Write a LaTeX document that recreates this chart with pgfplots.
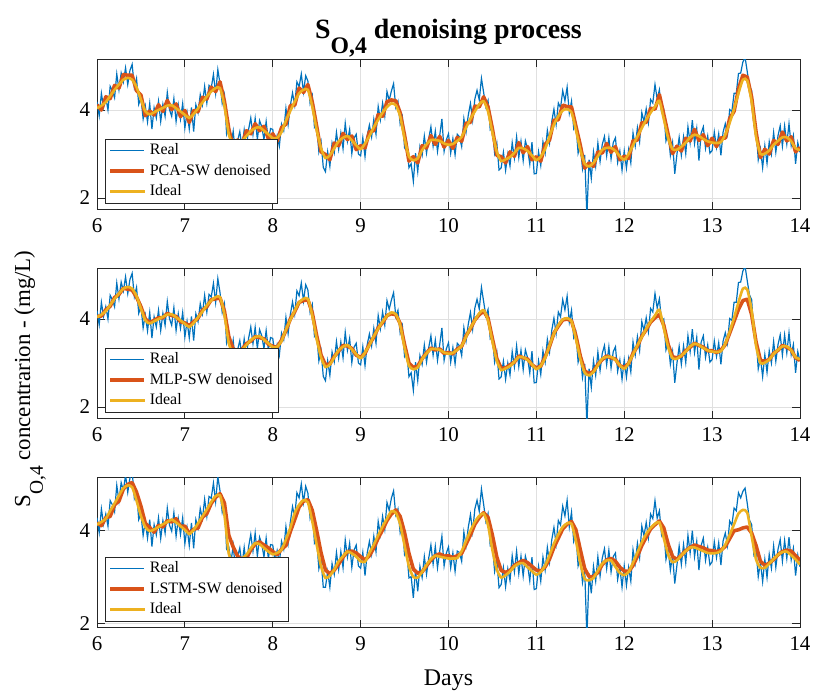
\documentclass[border=0pt]{standalone}
\usepackage{fontspec}
\setmainfont{Liberation Serif}
\usepackage{graphicx}
\usepackage{pgfplots}
\usepackage{pgfplotstable}
\pgfplotsset{compat=1.18}
\definecolor{mblue}{rgb}{0,0.447,0.741}
\definecolor{morange}{rgb}{0.85,0.325,0.098}
\definecolor{myellow}{rgb}{0.929,0.694,0.125}
\definecolor{axgray}{rgb}{0.15,0.15,0.15}
\newcommand{\msub}[1]{\raisebox{-0.55em}{\scalebox{0.85}{#1}}}

% Real signal, panels 1-2
\pgfplotstableread[row sep=\\]{
d v\\
6.000 4.19\\6.025 3.87\\6.050 4.38\\6.075 4.06\\6.100 4.28\\6.125 4.00\\6.150 4.54\\6.175 4.44\\6.200 4.28\\6.225 4.82\\
6.250 4.46\\6.275 4.84\\6.300 4.64\\6.325 4.96\\6.350 4.58\\6.375 4.90\\6.400 5.04\\6.425 4.51\\6.450 4.72\\6.475 4.13\\
6.500 4.29\\6.525 3.80\\6.550 4.09\\6.575 3.73\\6.600 4.15\\6.625 3.57\\6.650 4.05\\6.675 3.82\\6.700 4.20\\6.725 3.74\\
6.750 4.13\\6.775 3.86\\6.800 4.40\\6.825 4.01\\6.850 3.86\\6.875 4.26\\6.900 3.74\\6.925 4.12\\6.950 3.79\\6.975 4.15\\
7.000 3.59\\7.025 3.95\\7.050 3.57\\7.075 4.06\\7.100 3.51\\7.125 4.12\\7.150 3.94\\7.175 4.35\\7.200 4.12\\7.225 4.54\\
7.250 4.16\\7.275 4.56\\7.300 4.50\\7.325 4.81\\7.350 4.38\\7.375 4.92\\7.400 4.60\\7.425 4.15\\7.450 4.35\\7.475 3.45\\
7.500 3.60\\7.525 3.20\\7.550 3.52\\7.575 3.00\\7.600 3.30\\7.625 3.51\\7.650 3.15\\7.675 3.55\\7.700 3.16\\7.725 3.56\\
7.750 3.82\\7.775 3.44\\7.800 3.81\\7.825 3.33\\7.850 3.76\\7.875 3.62\\7.900 3.33\\7.925 3.74\\7.950 3.30\\7.975 3.58\\
8.000 3.56\\8.025 3.20\\8.050 3.42\\8.075 3.18\\8.100 3.68\\8.125 3.53\\8.150 4.04\\8.175 3.67\\8.200 4.10\\8.225 4.39\\
8.250 4.11\\8.275 4.64\\8.300 4.53\\8.325 4.82\\8.350 4.41\\8.375 4.78\\8.400 4.66\\8.425 4.15\\8.450 4.33\\8.475 3.60\\
8.500 3.65\\8.525 3.05\\8.550 3.28\\8.575 2.70\\8.600 2.60\\8.625 3.05\\8.650 2.72\\8.675 3.25\\8.700 3.03\\8.725 3.49\\
8.750 3.11\\8.775 3.48\\8.800 3.12\\8.825 3.70\\8.850 3.29\\8.875 3.56\\8.900 3.01\\8.925 3.36\\8.950 3.45\\8.975 3.00\\
9.000 2.96\\9.025 3.37\\9.050 2.94\\9.075 3.42\\9.100 3.66\\9.125 3.39\\9.150 3.79\\9.175 3.45\\9.200 4.08\\9.225 3.78\\
9.250 4.16\\9.275 3.86\\9.300 4.42\\9.325 4.22\\9.350 4.43\\9.375 4.60\\9.400 4.06\\9.425 4.20\\9.450 3.68\\9.475 3.85\\
9.500 3.15\\9.525 3.25\\9.550 2.69\\9.575 2.78\\9.600 2.38\\9.625 3.02\\9.650 2.60\\9.675 3.17\\9.700 2.97\\9.725 3.41\\
9.750 3.02\\9.775 3.35\\9.800 3.62\\9.825 3.18\\9.850 3.52\\9.875 3.06\\9.900 3.42\\9.925 3.80\\9.950 3.06\\9.975 3.32\\
10.000 3.46\\10.025 3.02\\10.050 3.35\\10.075 2.98\\10.100 3.45\\10.125 3.39\\10.150 3.17\\10.175 3.80\\10.200 3.50\\10.225 3.88\\
10.250 4.15\\10.275 3.77\\10.300 4.25\\10.325 4.45\\10.350 4.23\\10.375 4.72\\10.400 4.40\\10.425 4.07\\10.450 4.22\\10.475 3.55\\
10.500 3.59\\10.525 3.02\\10.550 3.25\\10.575 2.64\\10.600 2.69\\10.625 3.04\\10.650 2.63\\10.675 3.00\\10.700 2.73\\10.725 3.26\\
10.750 2.91\\10.775 3.39\\10.800 2.92\\10.825 3.29\\10.850 2.85\\10.875 3.30\\10.900 3.12\\10.925 2.77\\10.950 3.27\\10.975 2.55\\
11.000 2.56\\11.025 3.05\\11.050 2.74\\11.075 3.28\\11.100 3.02\\11.125 3.54\\11.150 3.25\\11.175 3.74\\11.200 4.02\\11.225 3.67\\
11.250 4.16\\11.275 4.05\\11.300 4.44\\11.325 4.21\\11.350 4.52\\11.375 3.93\\11.400 4.20\\11.425 3.58\\11.450 3.70\\11.475 3.02\\
11.500 3.20\\11.525 2.67\\11.550 2.98\\11.575 1.60\\11.600 2.87\\11.625 2.45\\11.650 3.05\\11.675 2.72\\11.700 3.25\\11.725 2.83\\
11.750 3.22\\11.775 3.40\\11.800 2.96\\11.825 3.37\\11.850 2.89\\11.875 3.26\\11.900 3.37\\11.925 2.81\\11.950 3.07\\11.975 2.63\\
12.000 3.07\\12.025 2.68\\12.050 3.10\\12.075 2.80\\12.100 3.48\\12.125 3.18\\12.150 3.60\\12.175 3.28\\12.200 3.94\\12.225 3.74\\
12.250 4.03\\12.275 3.71\\12.300 4.24\\12.325 4.16\\12.350 4.58\\12.375 4.25\\12.400 4.46\\12.425 3.95\\12.450 4.00\\12.475 3.30\\
12.500 3.48\\12.525 2.97\\12.550 3.26\\12.575 2.55\\12.600 3.00\\12.625 3.38\\12.650 2.97\\12.675 3.39\\12.700 3.01\\12.725 3.62\\
12.750 3.26\\12.775 3.77\\12.800 3.24\\12.825 3.58\\12.850 2.85\\12.875 3.47\\12.900 3.62\\12.925 3.13\\12.950 3.41\\12.975 3.02\\
13.000 3.08\\13.025 3.50\\13.050 3.15\\13.075 3.46\\13.100 2.97\\13.125 3.50\\13.150 3.69\\13.175 3.45\\13.200 4.01\\13.225 3.97\\
13.250 4.38\\13.275 4.38\\13.300 4.83\\13.325 4.84\\13.350 5.09\\13.375 5.20\\13.400 4.87\\13.425 4.55\\13.450 4.44\\13.475 3.65\\
13.500 3.60\\13.525 2.87\\13.550 3.12\\13.575 2.69\\13.600 3.19\\13.625 2.79\\13.650 3.28\\13.675 3.00\\13.700 3.49\\13.725 3.04\\
13.750 3.42\\13.775 3.64\\13.800 3.18\\13.825 3.64\\13.850 3.23\\13.875 3.69\\13.900 3.19\\13.925 3.42\\13.950 2.78\\13.975 3.26\\
14.000 3.04\\
}\realA

% Ideal, panels 1-2
\pgfplotstableread[row sep=\\]{
d v\\
6.00 4.04\\6.05 4.10\\6.10 4.18\\6.15 4.32\\6.20 4.46\\6.25 4.58\\6.30 4.69\\6.35 4.73\\6.40 4.69\\6.45 4.52\\
6.50 4.24\\6.55 3.97\\6.60 3.90\\6.65 3.95\\6.70 4.00\\6.75 4.05\\6.80 4.10\\6.85 4.11\\6.90 4.04\\6.95 3.97\\
7.00 3.89\\7.05 3.82\\7.10 3.91\\7.15 4.04\\7.20 4.17\\7.25 4.31\\7.30 4.42\\7.35 4.50\\7.40 4.50\\7.45 4.10\\
7.50 3.45\\7.55 3.22\\7.60 3.22\\7.65 3.30\\7.70 3.41\\7.75 3.52\\7.80 3.59\\7.85 3.61\\7.90 3.53\\7.95 3.45\\
8.00 3.36\\8.05 3.37\\8.10 3.50\\8.15 3.76\\8.20 3.98\\8.25 4.19\\8.30 4.38\\8.35 4.46\\8.40 4.46\\8.45 4.08\\
8.50 3.55\\8.55 3.13\\8.60 2.91\\8.65 2.97\\8.70 3.13\\8.75 3.29\\8.80 3.37\\8.85 3.41\\8.90 3.31\\8.95 3.20\\
9.00 3.11\\9.05 3.24\\9.10 3.41\\9.15 3.61\\9.20 3.78\\9.25 3.94\\9.30 4.07\\9.35 4.15\\9.40 4.11\\9.45 3.86\\
9.50 3.35\\9.55 2.94\\9.60 2.86\\9.65 2.90\\9.70 3.09\\9.75 3.22\\9.80 3.32\\9.85 3.32\\9.90 3.30\\9.95 3.24\\
10.00 3.21\\10.05 3.23\\10.10 3.30\\10.15 3.39\\10.20 3.60\\10.25 3.80\\10.30 3.97\\10.35 4.13\\10.40 4.20\\10.45 3.97\\
10.50 3.49\\10.55 3.05\\10.60 2.84\\10.65 2.88\\10.70 2.93\\10.75 3.03\\10.80 3.14\\10.85 3.13\\10.90 3.07\\10.95 2.97\\
11.00 2.86\\11.05 2.94\\11.10 3.12\\11.15 3.40\\11.20 3.67\\11.25 3.86\\11.30 3.99\\11.35 4.02\\11.40 3.95\\11.45 3.55\\
11.50 3.10\\11.55 2.78\\11.60 2.72\\11.65 2.80\\11.70 2.95\\11.75 3.10\\11.80 3.14\\11.85 3.14\\11.90 3.07\\11.95 2.95\\
12.00 2.87\\12.05 3.00\\12.10 3.20\\12.15 3.40\\12.20 3.59\\12.25 3.78\\12.30 3.94\\12.35 4.08\\12.40 4.21\\12.45 3.80\\
12.50 3.36\\12.55 3.11\\12.60 3.10\\12.65 3.17\\12.70 3.26\\12.75 3.38\\12.80 3.44\\12.85 3.41\\12.90 3.34\\12.95 3.29\\
13.00 3.26\\13.05 3.25\\13.10 3.27\\13.15 3.44\\13.20 3.71\\13.25 4.03\\13.30 4.38\\13.35 4.69\\13.40 4.67\\13.45 4.19\\
13.50 3.40\\13.55 3.00\\13.60 3.01\\13.65 3.08\\13.70 3.21\\13.75 3.30\\13.80 3.38\\13.85 3.38\\13.90 3.29\\13.95 3.13\\
14.00 3.09\\
}\idealA

% PCA-SW denoised
\pgfplotstableread[row sep=\\]{
d v\\
6.00 4.12\\6.05 4.00\\6.10 4.30\\6.15 4.26\\6.20 4.56\\6.25 4.50\\6.30 4.81\\6.35 4.79\\6.40 4.79\\6.45 4.44\\
6.50 4.34\\6.55 3.87\\6.60 3.98\\6.65 3.89\\6.70 4.12\\6.75 3.97\\6.80 4.22\\6.85 4.01\\6.90 4.14\\6.95 3.85\\
7.00 3.99\\7.05 3.72\\7.10 3.99\\7.15 3.96\\7.20 4.29\\7.25 4.25\\7.30 4.52\\7.35 4.42\\7.40 4.64\\7.45 4.20\\
7.50 3.57\\7.55 3.14\\7.60 3.32\\7.65 3.22\\7.70 3.53\\7.75 3.46\\7.80 3.69\\7.85 3.53\\7.90 3.63\\7.95 3.35\\
8.00 3.46\\8.05 3.29\\8.10 3.60\\8.15 3.68\\8.20 4.10\\8.25 4.11\\8.30 4.50\\8.35 4.40\\8.40 4.58\\8.45 4.18\\
8.50 3.63\\8.55 3.05\\8.60 2.99\\8.65 2.87\\8.70 3.25\\8.75 3.19\\8.80 3.47\\8.85 3.33\\8.90 3.41\\8.95 3.10\\
9.00 3.19\\9.05 3.14\\9.10 3.51\\9.15 3.53\\9.20 3.90\\9.25 3.86\\9.30 4.19\\9.35 4.23\\9.40 4.21\\9.45 3.94\\
9.50 3.43\\9.55 2.84\\9.60 2.94\\9.65 2.80\\9.70 3.19\\9.75 3.14\\9.80 3.42\\9.85 3.22\\9.90 3.40\\9.95 3.16\\
10.00 3.31\\10.05 3.13\\10.10 3.38\\10.15 3.29\\10.20 3.70\\10.25 3.72\\10.30 4.09\\10.35 4.07\\10.40 4.30\\10.45 4.07\\
10.50 3.57\\10.55 2.97\\10.60 2.94\\10.65 2.80\\10.70 3.05\\10.75 2.95\\10.80 3.26\\10.85 3.03\\10.90 3.17\\10.95 2.87\\
11.00 2.94\\11.05 2.84\\11.10 3.22\\11.15 3.32\\11.20 3.77\\11.25 3.78\\11.30 4.11\\11.35 4.08\\11.40 4.07\\11.45 3.63\\
11.50 3.20\\11.55 2.68\\11.60 2.80\\11.65 2.72\\11.70 3.05\\11.75 3.02\\11.80 3.24\\11.85 3.04\\11.90 3.17\\11.95 2.87\\
12.00 2.95\\12.05 2.90\\12.10 3.30\\12.15 3.32\\12.20 3.71\\12.25 3.72\\12.30 4.04\\12.35 4.02\\12.40 4.35\\12.45 3.90\\
12.50 3.44\\12.55 3.01\\12.60 3.18\\12.65 3.07\\12.70 3.36\\12.75 3.30\\12.80 3.56\\12.85 3.31\\12.90 3.44\\12.95 3.19\\
13.00 3.36\\13.05 3.17\\13.10 3.37\\13.15 3.36\\13.20 3.81\\13.25 3.97\\13.30 4.48\\13.35 4.79\\13.40 4.75\\13.45 4.29\\
13.50 3.50\\13.55 2.92\\13.60 3.11\\13.65 3.00\\13.70 3.31\\13.75 3.22\\13.80 3.50\\13.85 3.30\\13.90 3.39\\13.95 3.05\\
14.00 3.15\\
}\pcaA

% MLP-SW denoised
\pgfplotstableread[row sep=\\]{
d v\\
6.00 4.06\\6.05 4.07\\6.10 4.21\\6.15 4.29\\6.20 4.49\\6.25 4.56\\6.30 4.70\\6.35 4.68\\6.40 4.66\\6.45 4.50\\
6.50 4.28\\6.55 4.00\\6.60 3.92\\6.65 3.97\\6.70 4.03\\6.75 4.03\\6.80 4.13\\6.85 4.08\\6.90 4.06\\6.95 3.94\\
7.00 3.91\\7.05 3.85\\7.10 3.94\\7.15 4.02\\7.20 4.20\\7.25 4.28\\7.30 4.44\\7.35 4.46\\7.40 4.48\\7.45 4.18\\
7.50 3.60\\7.55 3.32\\7.60 3.28\\7.65 3.31\\7.70 3.44\\7.75 3.50\\7.80 3.60\\7.85 3.58\\7.90 3.55\\7.95 3.43\\
8.00 3.38\\8.05 3.36\\8.10 3.52\\8.15 3.74\\8.20 4.00\\8.25 4.17\\8.30 4.38\\8.35 4.42\\8.40 4.44\\8.45 4.14\\
8.50 3.62\\8.55 3.18\\8.60 2.96\\8.65 2.98\\8.70 3.15\\8.75 3.27\\8.80 3.40\\8.85 3.39\\8.90 3.33\\8.95 3.18\\
9.00 3.13\\9.05 3.22\\9.10 3.43\\9.15 3.59\\9.20 3.80\\9.25 3.92\\9.30 4.08\\9.35 4.12\\9.40 4.10\\9.45 3.90\\
9.50 3.42\\9.55 3.00\\9.60 2.90\\9.65 2.93\\9.70 3.10\\9.75 3.23\\9.80 3.34\\9.85 3.30\\9.90 3.32\\9.95 3.22\\
10.00 3.24\\10.05 3.21\\10.10 3.32\\10.15 3.38\\10.20 3.62\\10.25 3.78\\10.30 3.98\\10.35 4.10\\10.40 4.18\\10.45 4.02\\
10.50 3.55\\10.55 3.10\\10.60 2.88\\10.65 2.89\\10.70 2.96\\10.75 3.02\\10.80 3.16\\10.85 3.12\\10.90 3.09\\10.95 2.96\\
11.00 2.89\\11.05 2.93\\11.10 3.14\\11.15 3.38\\11.20 3.68\\11.25 3.84\\11.30 3.98\\11.35 4.00\\11.40 3.96\\11.45 3.62\\
11.50 3.16\\11.55 2.82\\11.60 2.76\\11.65 2.81\\11.70 2.97\\11.75 3.08\\11.80 3.16\\11.85 3.12\\11.90 3.09\\11.95 2.94\\
12.00 2.90\\12.05 2.99\\12.10 3.22\\12.15 3.38\\12.20 3.61\\12.25 3.76\\12.30 3.93\\12.35 4.03\\12.40 4.10\\12.45 3.86\\
12.50 3.42\\12.55 3.14\\12.60 3.12\\12.65 3.16\\12.70 3.28\\12.75 3.36\\12.80 3.45\\12.85 3.40\\12.90 3.36\\12.95 3.28\\
13.00 3.28\\13.05 3.24\\13.10 3.29\\13.15 3.42\\13.20 3.68\\13.25 3.95\\13.30 4.22\\13.35 4.42\\13.40 4.45\\13.45 4.10\\
13.50 3.48\\13.55 3.06\\13.60 3.04\\13.65 3.08\\13.70 3.22\\13.75 3.29\\13.80 3.40\\13.85 3.36\\13.90 3.30\\13.95 3.12\\
14.00 3.06\\
}\mlpA

% Real signal, panel 3
\pgfplotstableread[row sep=\\]{
d v\\
6.000 4.28\\6.025 3.96\\6.050 4.47\\6.075 4.14\\6.100 4.36\\6.125 4.10\\6.150 4.65\\6.175 4.56\\6.200 4.41\\6.225 4.98\\
6.250 4.64\\6.275 5.04\\6.300 4.87\\6.325 5.20\\6.350 4.83\\6.375 5.14\\6.400 5.29\\6.425 4.70\\6.450 4.85\\6.475 4.24\\
6.500 4.37\\6.525 3.90\\6.550 4.20\\6.575 3.84\\6.600 4.24\\6.625 3.66\\6.650 4.13\\6.675 3.91\\6.700 4.28\\6.725 3.83\\
6.750 4.22\\6.775 3.95\\6.800 4.49\\6.825 4.12\\6.850 3.99\\6.875 4.39\\6.900 3.88\\6.925 4.26\\6.950 3.92\\6.975 4.28\\
7.000 3.72\\7.025 4.07\\7.050 3.68\\7.075 4.17\\7.100 3.62\\7.125 4.24\\7.150 4.06\\7.175 4.48\\7.200 4.26\\7.225 4.68\\
7.250 4.31\\7.275 4.74\\7.300 4.70\\7.325 5.03\\7.350 4.63\\7.375 5.17\\7.400 4.86\\7.425 4.40\\7.450 4.59\\7.475 3.60\\
7.500 3.65\\7.525 3.33\\7.550 3.68\\7.575 3.17\\7.600 3.44\\7.625 3.63\\7.650 3.25\\7.675 3.64\\7.700 3.23\\7.725 3.65\\
7.750 3.92\\7.775 3.56\\7.800 3.95\\7.825 3.45\\7.850 3.86\\7.875 3.72\\7.900 3.43\\7.925 3.84\\7.950 3.40\\7.975 3.70\\
8.000 3.69\\8.025 3.35\\8.050 3.57\\8.075 3.30\\8.100 3.77\\8.125 3.60\\8.150 4.09\\8.175 3.73\\8.200 4.18\\8.225 4.52\\
8.250 4.30\\8.275 4.82\\8.300 4.71\\8.325 5.01\\8.350 4.61\\8.375 4.96\\8.400 4.81\\8.425 4.27\\8.450 4.45\\8.475 3.73\\
8.500 3.80\\8.525 3.18\\8.550 3.38\\8.575 2.78\\8.600 2.78\\8.625 3.12\\8.650 2.78\\8.675 3.29\\8.700 3.06\\8.725 3.53\\
8.750 3.16\\8.775 3.55\\8.800 3.20\\8.825 3.80\\8.850 3.43\\8.875 3.73\\8.900 3.21\\8.925 3.58\\8.950 3.69\\8.975 3.24\\
9.000 3.19\\9.025 3.53\\9.050 3.03\\9.075 3.52\\9.100 3.77\\9.125 3.49\\9.150 3.88\\9.175 3.55\\9.200 4.20\\9.225 3.92\\
9.250 4.31\\9.275 4.03\\9.300 4.61\\9.325 4.44\\9.350 4.70\\9.375 4.86\\9.400 4.34\\9.425 4.47\\9.450 3.96\\9.475 4.16\\
9.500 3.48\\9.525 3.57\\9.550 2.98\\9.575 3.01\\9.600 2.55\\9.625 3.15\\9.650 2.69\\9.675 3.23\\9.700 2.99\\9.725 3.44\\
9.750 3.06\\9.775 3.41\\9.800 3.69\\9.825 3.28\\9.850 3.66\\9.875 3.20\\9.900 3.56\\9.925 3.88\\9.950 3.24\\9.975 3.51\\
10.000 3.65\\10.025 3.20\\10.050 3.52\\10.075 3.12\\10.100 3.56\\10.125 3.53\\10.150 3.34\\10.175 3.97\\10.200 3.68\\10.225 4.07\\
10.250 4.35\\10.275 3.98\\10.300 4.47\\10.325 4.66\\10.350 4.42\\10.375 4.90\\10.400 4.57\\10.425 4.20\\10.450 4.37\\10.475 3.67\\
10.500 3.68\\10.525 3.12\\10.550 3.36\\10.575 2.77\\10.600 2.84\\10.625 3.20\\10.650 2.79\\10.675 3.18\\10.700 2.92\\10.725 3.46\\
10.750 3.11\\10.775 3.56\\10.800 3.07\\10.825 3.45\\10.850 3.02\\10.875 3.45\\10.900 3.26\\10.925 2.92\\10.950 3.43\\10.975 2.73\\
11.000 2.75\\11.025 3.23\\11.050 2.91\\11.075 3.43\\11.100 3.15\\11.125 3.64\\11.150 3.32\\11.175 3.80\\11.200 4.07\\11.225 3.72\\
11.250 4.22\\11.275 4.12\\11.300 4.53\\11.325 4.32\\11.350 4.66\\11.375 4.08\\11.400 4.40\\11.425 3.77\\11.450 3.93\\11.475 3.24\\
11.500 3.40\\11.525 2.88\\11.550 3.16\\11.575 1.70\\11.600 3.08\\11.625 2.65\\11.650 3.23\\11.675 2.91\\11.700 3.44\\11.725 3.02\\
11.750 3.41\\11.775 3.61\\11.800 3.18\\11.825 3.58\\11.850 3.11\\11.875 3.44\\11.900 3.52\\11.925 2.95\\11.950 3.21\\11.975 2.78\\
12.000 3.24\\12.025 2.82\\12.050 3.21\\12.075 2.91\\12.100 3.59\\12.125 3.30\\12.150 3.73\\12.175 3.42\\12.200 4.10\\12.225 3.89\\
12.250 4.18\\12.275 3.85\\12.300 4.36\\12.325 4.26\\12.350 4.65\\12.375 4.27\\12.400 4.43\\12.425 3.91\\12.450 4.04\\12.475 3.38\\
12.500 3.60\\12.525 3.15\\12.550 3.47\\12.575 2.86\\12.600 3.26\\12.625 3.67\\12.650 3.27\\12.675 3.70\\12.700 3.31\\12.725 3.90\\
12.750 3.52\\12.775 4.00\\12.800 3.44\\12.825 3.77\\12.850 3.15\\12.875 3.68\\12.900 3.84\\12.925 3.36\\12.950 3.64\\12.975 3.26\\
13.000 3.33\\13.025 3.76\\13.050 3.42\\13.075 3.74\\13.100 3.26\\13.125 3.78\\13.150 3.95\\13.175 3.68\\13.200 4.21\\13.225 4.12\\
13.250 4.49\\13.275 4.43\\13.300 4.82\\13.325 4.71\\13.350 4.85\\13.375 4.92\\13.400 4.59\\13.425 4.23\\13.450 4.13\\13.475 3.48\\
13.500 3.58\\13.525 3.01\\13.550 3.32\\13.575 2.90\\13.600 3.38\\13.625 2.99\\13.650 3.49\\13.675 3.19\\13.700 3.67\\13.725 3.21\\
13.750 3.60\\13.775 3.81\\13.800 3.34\\13.825 3.79\\13.850 3.40\\13.875 3.86\\13.900 3.37\\13.925 3.62\\13.950 3.03\\13.975 3.47\\
14.000 3.22\\
}\realB

% Ideal, panel 3
\pgfplotstableread[row sep=\\]{
d v\\
6.00 4.13\\6.05 4.19\\6.10 4.26\\6.15 4.43\\6.20 4.59\\6.25 4.76\\6.30 4.92\\6.35 4.98\\6.40 4.94\\6.45 4.65\\
6.50 4.32\\6.55 4.08\\6.60 3.99\\6.65 4.03\\6.70 4.08\\6.75 4.14\\6.80 4.19\\6.85 4.24\\6.90 4.18\\6.95 4.10\\
7.00 4.02\\7.05 3.93\\7.10 4.02\\7.15 4.16\\7.20 4.31\\7.25 4.46\\7.30 4.62\\7.35 4.75\\7.40 4.76\\7.45 4.34\\
7.50 3.50\\7.55 3.38\\7.60 3.36\\7.65 3.40\\7.70 3.48\\7.75 3.62\\7.80 3.73\\7.85 3.71\\7.90 3.63\\7.95 3.55\\
8.00 3.49\\8.05 3.52\\8.10 3.59\\8.15 3.81\\8.20 4.06\\8.25 4.38\\8.30 4.56\\8.35 4.66\\8.40 4.61\\8.45 4.20\\
8.50 3.70\\8.55 3.23\\8.60 2.98\\8.65 3.03\\8.70 3.16\\8.75 3.34\\8.80 3.45\\8.85 3.55\\8.90 3.51\\8.95 3.44\\
9.00 3.34\\9.05 3.33\\9.10 3.52\\9.15 3.70\\9.20 3.90\\9.25 4.09\\9.30 4.26\\9.35 4.42\\9.40 4.39\\9.45 4.14\\
9.50 3.68\\9.55 3.23\\9.60 3.00\\9.65 2.99\\9.70 3.11\\9.75 3.26\\9.80 3.39\\9.85 3.46\\9.90 3.44\\9.95 3.42\\
10.00 3.40\\10.05 3.40\\10.10 3.41\\10.15 3.56\\10.20 3.78\\10.25 4.00\\10.30 4.19\\10.35 4.32\\10.40 4.37\\10.45 4.12\\
10.50 3.58\\10.55 3.16\\10.60 2.99\\10.65 3.04\\10.70 3.12\\10.75 3.23\\10.80 3.29\\10.85 3.30\\10.90 3.21\\10.95 3.13\\
11.00 3.05\\11.05 3.11\\11.10 3.25\\11.15 3.47\\11.20 3.72\\11.25 3.92\\11.30 4.08\\11.35 4.16\\11.40 4.15\\11.45 3.78\\
11.50 3.30\\11.55 2.96\\11.60 2.93\\11.65 2.98\\11.70 3.14\\11.75 3.29\\11.80 3.36\\11.85 3.36\\11.90 3.22\\11.95 3.09\\
12.00 3.04\\12.05 3.11\\12.10 3.31\\12.15 3.53\\12.20 3.75\\12.25 3.93\\12.30 4.06\\12.35 4.15\\12.40 4.18\\12.45 3.84\\
12.50 3.48\\12.55 3.32\\12.60 3.36\\12.65 3.47\\12.70 3.56\\12.75 3.64\\12.80 3.64\\12.85 3.60\\12.90 3.56\\12.95 3.52\\
13.00 3.51\\13.05 3.52\\13.10 3.56\\13.15 3.70\\13.20 3.91\\13.25 4.14\\13.30 4.37\\13.35 4.45\\13.40 4.39\\13.45 3.88\\
13.50 3.38\\13.55 3.20\\13.60 3.20\\13.65 3.29\\13.70 3.39\\13.75 3.48\\13.80 3.54\\13.85 3.55\\13.90 3.47\\13.95 3.38\\
14.00 3.27\\
}\idealB

% LSTM-SW denoised
\pgfplotstableread[row sep=\\]{
d v\\
6.00 4.17\\6.05 4.11\\6.10 4.28\\6.15 4.31\\6.20 4.56\\6.25 4.64\\6.30 4.90\\6.35 5.00\\6.40 5.04\\6.45 4.83\\
6.50 4.53\\6.55 4.16\\6.60 4.07\\6.65 3.97\\6.70 4.12\\6.75 4.08\\6.80 4.22\\6.85 4.19\\6.90 4.26\\6.95 4.10\\
7.00 4.10\\7.05 3.94\\7.10 4.03\\7.15 4.06\\7.20 4.29\\7.25 4.37\\7.30 4.59\\7.35 4.72\\7.40 4.80\\7.45 4.60\\
7.50 3.90\\7.55 3.65\\7.60 3.45\\7.65 3.38\\7.70 3.40\\7.75 3.59\\7.80 3.71\\7.85 3.76\\7.90 3.69\\7.95 3.63\\
8.00 3.55\\8.05 3.48\\8.10 3.60\\8.15 3.68\\8.20 3.98\\8.25 4.24\\8.30 4.51\\8.35 4.64\\8.40 4.67\\8.45 4.44\\
8.50 4.00\\8.55 3.52\\8.60 3.15\\8.65 3.07\\8.70 3.15\\8.75 3.28\\8.80 3.43\\8.85 3.55\\8.90 3.56\\8.95 3.52\\
9.00 3.44\\9.05 3.37\\9.10 3.46\\9.15 3.63\\9.20 3.84\\9.25 4.02\\9.30 4.22\\9.35 4.36\\9.40 4.45\\9.45 4.31\\
9.50 3.96\\9.55 3.51\\9.60 3.17\\9.65 3.08\\9.70 3.11\\9.75 3.24\\9.80 3.37\\9.85 3.46\\9.90 3.50\\9.95 3.45\\
10.00 3.46\\10.05 3.42\\10.10 3.46\\10.15 3.51\\10.20 3.71\\10.25 3.91\\10.30 4.14\\10.35 4.28\\10.40 4.39\\10.45 4.29\\
10.50 3.90\\10.55 3.43\\10.60 3.14\\10.65 3.10\\10.70 3.14\\10.75 3.25\\10.80 3.31\\10.85 3.36\\10.90 3.31\\10.95 3.23\\
11.00 3.15\\11.05 3.13\\11.10 3.22\\11.15 3.39\\11.20 3.64\\11.25 3.84\\11.30 4.04\\11.35 4.14\\11.40 4.20\\11.45 4.02\\
11.50 3.59\\11.55 3.18\\11.60 3.01\\11.65 3.01\\11.70 3.10\\11.75 3.27\\11.80 3.37\\11.85 3.40\\11.90 3.34\\11.95 3.21\\
12.00 3.13\\12.05 3.12\\12.10 3.25\\12.15 3.45\\12.20 3.68\\12.25 3.86\\12.30 4.04\\12.35 4.13\\12.40 4.21\\12.45 4.06\\
12.50 3.71\\12.55 3.44\\12.60 3.38\\12.65 3.47\\12.70 3.57\\12.75 3.64\\12.80 3.69\\12.85 3.66\\12.90 3.63\\12.95 3.58\\
13.00 3.57\\13.05 3.55\\13.10 3.58\\13.15 3.66\\13.20 3.83\\13.25 4.00\\13.30 4.02\\13.35 4.06\\13.40 4.08\\13.45 3.95\\
13.50 3.68\\13.55 3.34\\13.60 3.25\\13.65 3.30\\13.70 3.38\\13.75 3.48\\13.80 3.55\\13.85 3.58\\13.90 3.56\\13.95 3.46\\
14.00 3.36\\
}\lstmB

\pgfplotsset{
  panel/.style={
    scale only axis, width=351.5bp, height=75.25bp,
    xmin=6, xmax=14, xtick={6,7,...,14},
    ytick={2,4},
    grid=major, major grid style={line width=0.4bp, draw=black!12},
    axis line style={draw=axgray, line width=0.45bp},
    tick style={draw=axgray, line width=0.45bp},
    tick align=inside, major tick length=4bp,
    tick label style={font=\fontsize{10.5}{10.5}\selectfont, text=black},
    /pgf/number format/assume math mode=true,
    xticklabel style={yshift=-1bp},
    legend style={at={(0.012,0.04)}, anchor=south west, draw=axgray,
      line width=0.45bp, font=\fontsize{8}{9.3}\selectfont,
      inner xsep=1.2bp, inner ysep=0.3bp, row sep=-0.8bp, fill=white},
    legend cell align=left,
  },
  realsty/.style={mblue, line width=0.6bp},
  densty/.style={morange, line width=1.8bp, line join=round},
  idealsty/.style={myellow, line width=1.3bp, smooth, tension=0.4},
}

\begin{document}
\begin{tikzpicture}
\path[use as bounding box] (-48.5bp,29.5bp) rectangle (359bp,-318bp);

\begin{axis}[panel, at={(0,0)}, anchor=north west, ymin=1.74, ymax=5.16]
\addplot[realsty] table[x=d,y=v] {\realA};
\addplot[densty] table[x=d,y=v] {\pcaA};
\addplot[idealsty] table[x=d,y=v] {\idealA};
\legend{Real, PCA-SW denoised, Ideal}
\end{axis}

\begin{axis}[panel, at={(0,-104.5bp)}, anchor=north west, ymin=1.74, ymax=5.16]
\addplot[realsty] table[x=d,y=v] {\realA};
\addplot[densty] table[x=d,y=v] {\mlpA};
\addplot[idealsty] table[x=d,y=v] {\idealA};
\legend{Real, MLP-SW denoised, Ideal}
\end{axis}

\begin{axis}[panel, at={(0,-209bp)}, anchor=north west, ymin=1.91, ymax=5.16]
\addplot[realsty] table[x=d,y=v] {\realB};
\addplot[densty] table[x=d,y=v] {\lstmB};
\addplot[idealsty] table[x=d,y=v] {\idealB};
\legend{Real, LSTM-SW denoised, Ideal}
\end{axis}

\node[font=\bfseries\fontsize{14}{14}\selectfont, anchor=base] at (175.75bp,10.5bp)
  {S\msub{O,4} denoising process};
\node[font=\fontsize{11.5}{11.5}\selectfont, rotate=90, anchor=center] at (-33.5bp,-160bp)
  {S\msub{O,4} concentrarion - (mg/L)};
\node[font=\fontsize{12}{12}\selectfont, anchor=center] at (175.75bp,-310.5bp) {Days};
\end{tikzpicture}
\end{document}
